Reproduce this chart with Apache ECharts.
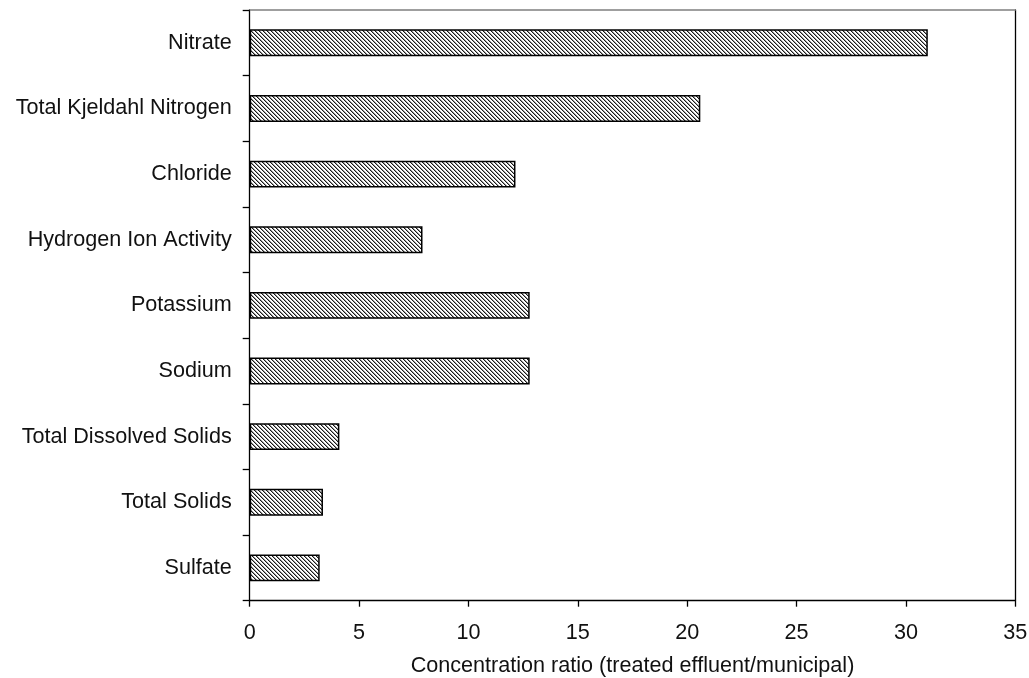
<!DOCTYPE html>
<html>
<head>
<meta charset="utf-8">
<title>Concentration ratio</title>
<script src="https://cdn.jsdelivr.net/npm/echarts@6/dist/echarts.min.js"></script>
<style>
  html, body { margin: 0; padding: 0; background: #fff; }
  #chart { width: 1029px; height: 678px; }
</style>
</head>
<body>
<div id="chart"></div>
<script>
// Constituents, top to bottom
const categories = [
  'Nitrate',
  'Total Kjeldahl Nitrogen',
  'Chloride',
  'Hydrogen Ion Activity',
  'Potassium',
  'Sodium',
  'Total Dissolved Solids',
  'Total Solids',
  'Sulfate'
];
// Ratio of treated effluent to municipal water
const ratios = [31.0, 20.6, 12.15, 7.9, 12.8, 12.8, 4.1, 3.35, 3.2];

const xMin = 0;
const xMax = 35;
const xStep = 5;
const axisTitle = 'Concentration ratio (treated effluent/municipal)';

// Diagonal hatch fill ("\" direction) for the bars
function makeHatch() {
  const size = 4;
  const c = document.createElement('canvas');
  c.width = size; c.height = size;
  const ctx = c.getContext('2d');
  ctx.fillStyle = '#ffffff';
  ctx.fillRect(0, 0, size, size);
  for (let y = 0; y < size; y++) {
    for (let x = 0; x < size; x++) {
      const d = ((x - y) % size + size) % size;
      if (d === 0) { ctx.fillStyle = '#1a1a1a'; ctx.fillRect(x, y, 1, 1); }
      else if (d === 1) { ctx.fillStyle = '#9a9a9a'; ctx.fillRect(x, y, 1, 1); }
    }
  }
  return c;
}

const font = 'Liberation Sans, Arial, sans-serif';
const fontSize = 21.6;
const chart = echarts.init(document.getElementById('chart'), null, { renderer: 'canvas' });

chart.setOption({
  animation: false,
  backgroundColor: '#ffffff',
  grid: {
    left: 249.7, right: 13.7, top: 10, bottom: 77.3,
    containLabel: false,
    outerBoundsMode: 'none'
  },
  xAxis: [
    {
      type: 'value',
      position: 'bottom',
      min: xMin, max: xMax, interval: xStep,
      name: axisTitle,
      nameLocation: 'middle',
      nameGap: 54,
      nameTextStyle: { color: '#111', fontSize: fontSize, fontFamily: font },
      axisLine: { show: true, lineStyle: { color: '#000', width: 1.3 } },
      axisTick: { show: true, inside: false, length: 6, lineStyle: { color: '#000', width: 1.3 } },
      axisLabel: { color: '#111', fontSize: fontSize, fontFamily: font, margin: 21.5 },
      splitLine: { show: false }
    },
    {
      type: 'value',
      position: 'top',
      min: xMin, max: xMax,
      axisLine: { show: true, onZero: false, lineStyle: { color: '#808080', width: 1.5 } },
      axisTick: { show: false },
      axisLabel: { show: false },
      splitLine: { show: false }
    }
  ],
  yAxis: [
    {
      type: 'category',
      data: categories,
      inverse: true,
      position: 'left',
      axisLine: { show: true, lineStyle: { color: '#000', width: 1.3 } },
      axisTick: { show: true, inside: false, length: 7, alignWithLabel: false, lineStyle: { color: '#000', width: 1.3 } },
      axisLabel: { color: '#111', fontSize: fontSize, fontFamily: font, margin: 18 },
      splitLine: { show: false }
    },
    {
      type: 'category',
      data: categories,
      inverse: true,
      position: 'right',
      axisLine: { show: true, onZero: false, lineStyle: { color: '#000', width: 1.3 } },
      axisTick: { show: false },
      axisLabel: { show: false },
      splitLine: { show: false }
    }
  ],
  series: [
    {
      type: 'bar',
      xAxisIndex: 0,
      yAxisIndex: 0,
      data: ratios,
      barWidth: '41%',
      itemStyle: {
        color: { image: makeHatch(), repeat: 'repeat' },
        borderColor: '#000',
        borderWidth: 1.5
      },
      emphasis: { disabled: true }
    }
  ]
});
</script>
</body>
</html>
